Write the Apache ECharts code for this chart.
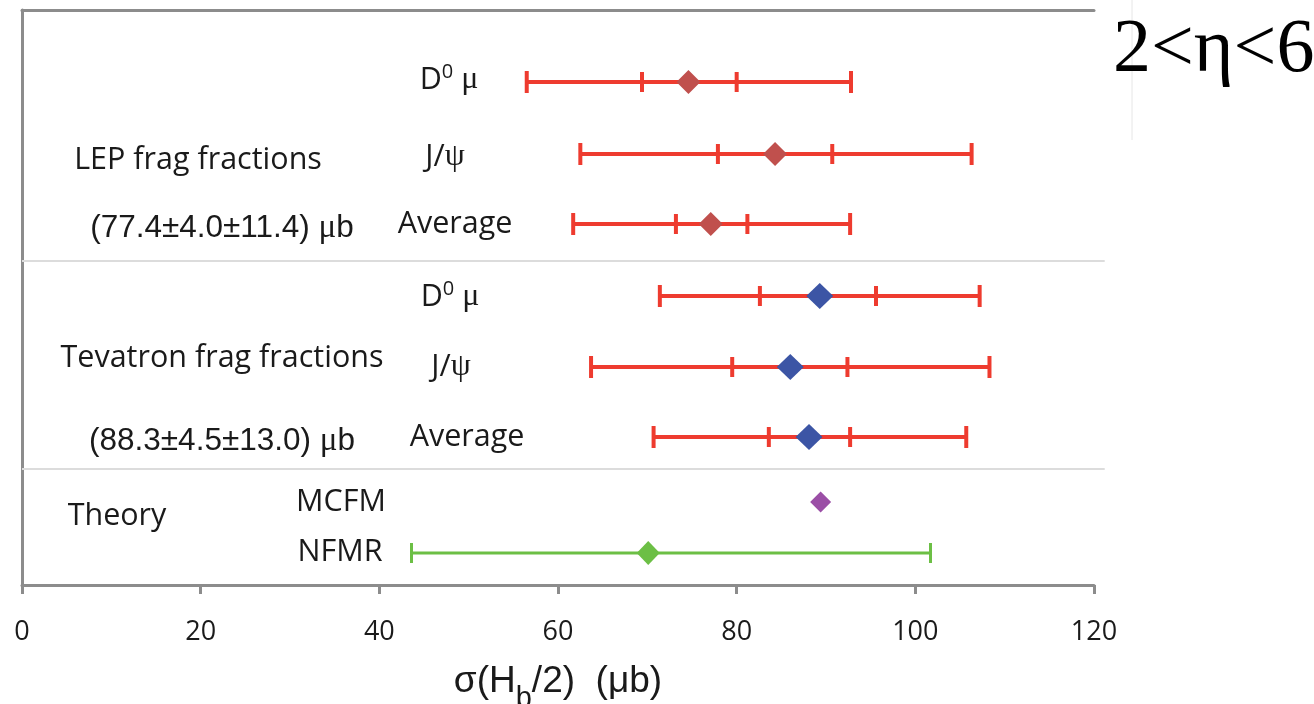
<!DOCTYPE html>
<html>
<head>
<meta charset="utf-8">
<script src="https://cdn.jsdelivr.net/npm/echarts@6/dist/echarts.min.js"></script>
<style>
  html, body { margin: 0; padding: 0; background: #fff; }
  #chart { width: 1314px; height: 704px; }
</style>
</head>
<body>
<div id="chart"></div>
<script>
// rows, top to bottom; rowY is the row's height on the hidden vertical scale
const rowNames = ["LEP D0mu", "LEP J/psi", "LEP Average", "Tev D0mu", "Tev J/psi", "Tev Average", "MCFM", "NFMR"];
const rowY = [503, 431, 361, 289, 218, 148, 83, 32];
const centers = [74.6, 84.3, 77.1, 89.3, 86.0, 88.1, 89.4, 70.1];
const innerLo = [69.4, 77.9, 73.2, 82.6, 79.5, 83.6, null, null];
const innerHi = [80.0, 90.7, 81.2, 95.6, 92.4, 92.7, null, null];
const outerLo = [56.5, 62.5, 61.7, 71.4, 63.7, 70.7, null, 43.6];
const outerHi = [92.8, 106.3, 92.7, 107.2, 108.3, 105.7, null, 101.7];
const rowGroup = [0, 0, 0, 1, 1, 1, 2, 3];
const separatorY = [324, 116];
const xTicks = [0, 20, 40, 60, 80, 100, 120];

(function() {
    let chart = echarts.init(document.getElementById("chart"));

    const barColor = ["#ee3b2f", "#ee3b2f", "#ee3b2f", "#6cbf45"];
    const dotColor = ["#c0504d", "#3c55a5", "#9b4fa6", "#6cbf45"];
    const dotSize = [[24, 24], [27, 26], [21, 21], [23, 24]];

    const sans = "'Open Sans', sans-serif";
    const serif = "'Liberation Serif', serif";
    const arial = "'Liberation Sans', sans-serif";

    let barData = [];
    for (let i = 0; i < rowY.length; i++) {
        if (outerLo[i] == null) continue;
        barData.push([rowY[i], outerLo[i], outerHi[i], innerLo[i] == null ? "-" : innerLo[i], innerHi[i] == null ? "-" : innerHi[i], rowGroup[i]]);
    }

    function renderBar(params, api) {
        let y = api.value(0), g = api.value(5);
        let lo = api.coord([api.value(1), y]), hi = api.coord([api.value(2), y]);
        let color = barColor[g];
        let lw = g === 3 ? 3 : 4;
        let style = { stroke: color, lineWidth: lw };
        let kids = [{ type: "line", shape: { x1: lo[0], y1: lo[1], x2: hi[0], y2: hi[1] }, style }];
        let capH = g === 3 ? 10 : 11;
        [lo, hi].forEach(p => kids.push({ type: "line", shape: { x1: p[0], y1: p[1] - capH, x2: p[0], y2: p[1] + capH }, style }));
        let il = api.value(3), ih = api.value(4);
        if (!isNaN(il) && !isNaN(ih)) {
            [il, ih].forEach(v => {
                let p = api.coord([v, y]);
                kids.push({ type: "line", shape: { x1: p[0], y1: p[1] - 10, x2: p[0], y2: p[1] + 10 }, style });
            });
        }
        return { type: "group", children: kids };
    }

    function renderSep(params, api) {
        let a = api.coord([0, api.value(0)]), b = api.coord([121.2, api.value(0)]);
        return { type: "line", shape: { x1: a[0], y1: a[1], x2: b[0], y2: b[1] }, style: { stroke: "#dcdcdc", lineWidth: 2 } };
    }

    let dotSeries = [0, 1, 2, 3].map(g => ({
        type: "scatter",
        symbol: "diamond",
        symbolSize: dotSize[g],
        itemStyle: { color: dotColor[g], opacity: 1 },
        z: 5,
        data: rowY.map((y, i) => rowGroup[i] === g ? [centers[i], y] : null).filter(d => d)
    }));

    function txt(text, x, y, font, rich) {
        return {
            type: "text", x, y, z: 10,
            style: { text, font, fill: "#1a1a1a", align: "center", verticalAlign: "middle", rich }
        };
    }
    const lab = "30.5px " + sans;
    const dmuRich = {
        d: { font: lab, fill: "#1a1a1a", lineHeight: 36 },
        s: { font: "20px " + sans, fill: "#1a1a1a", lineHeight: 24, verticalAlign: "top" },
        m: { font: "32px " + serif, fill: "#1a1a1a", lineHeight: 36 }
    };
    const jpsiRich = {
        d: { font: lab, fill: "#1a1a1a", lineHeight: 36 },
        m: { font: "32px " + serif, fill: "#1a1a1a", lineHeight: 36 }
    };
    const valRich = {
        d: { font: "31.5px " + arial, fill: "#1a1a1a", lineHeight: 38 },
        m: { font: "33px " + serif, fill: "#1a1a1a", lineHeight: 38 }
    };

    let option = {
        animation: false,
        title: {
            text: "2<η<6",
            left: 1108, top: 8,
            textStyle: { fontFamily: serif, fontSize: 76, fontWeight: "normal", color: "#000" }
        },
        grid: { left: 22, right: 220, top: 10, bottom: 119, outerBoundsMode: "none", containLabel: false },
        xAxis: [{
            type: "value", min: 0, max: 120, interval: 20,
            axisLine: { show: true, lineStyle: { color: "#8c8c8c", width: 3 } },
            axisTick: { show: true, length: 9, lineStyle: { color: "#8c8c8c", width: 3 } },
            axisLabel: { color: "#1a1a1a", fontFamily: sans, fontSize: 27, margin: 34,
                formatter: v => xTicks.indexOf(v) >= 0 ? String(v) : "" },
            splitLine: { show: false },
            name: "{t|σ(H}{b|b}{t|/2)  (μb)}",
            nameLocation: "middle",
            nameGap: 78,
            nameTextStyle: {
                rich: {
                    t: { fontFamily: arial, fontSize: 37, color: "#1a1a1a", lineHeight: 50, verticalAlign: "top" },
                    b: { fontFamily: arial, fontSize: 29, color: "#1a1a1a", lineHeight: 28, verticalAlign: "bottom" }
                }
            }
        }, {
            type: "value", min: 0, max: 120, position: "top",
            axisLine: { show: true, lineStyle: { color: "#8c8c8c", width: 3 } },
            axisTick: { show: false }, axisLabel: { show: false }, splitLine: { show: false }
        }],
        yAxis: {
            type: "value", min: 0, max: 575,
            axisLine: { show: true, lineStyle: { color: "#8c8c8c", width: 3 } },
            axisTick: { show: false }, axisLabel: { show: false }, splitLine: { show: false }
        },
        graphic: [
            { type: "line", shape: { x1: 1132, y1: 0, x2: 1132, y2: 140 }, style: { stroke: "#e6e6e6", lineWidth: 1 } },
            txt("LEP frag fractions", 198, 160, lab),
            txt("{d|(77.4±4.0±11.4) }{m|μ}{d|b}", 222, 228, null, valRich),
            txt("Tevatron frag fractions", 222, 358, lab),
            txt("{d|(88.3±4.5±13.0) }{m|μ}{d|b}", 222, 441, null, valRich),
            txt("Theory", 117, 516, lab),
            txt("{d|D}{s|0}{m| μ}", 449, 80, null, dmuRich),
            txt("{d|J/}{m|ψ}", 445, 157, null, jpsiRich),
            txt("Average", 455, 224, lab),
            txt("{d|D}{s|0}{m| μ}", 450, 297, null, dmuRich),
            txt("{d|J/}{m|ψ}", 451, 367, null, jpsiRich),
            txt("Average", 467, 437, lab),
            txt("MCFM", 341, 502, lab),
            txt("NFMR", 340, 552, lab)
        ],
        series: [{
            type: "custom",
            renderItem: renderSep,
            clip: false,
            silent: true,
            encode: { y: 0 },
            data: separatorY.map(y => [y])
        }, {
            type: "custom",
            renderItem: renderBar,
            clip: false,
            silent: true,
            z: 3,
            encode: { y: 0, x: [1, 2] },
            data: barData
        }].concat(dotSeries)
    };

    chart.setOption(option);
}());
</script>
</body>
</html>
